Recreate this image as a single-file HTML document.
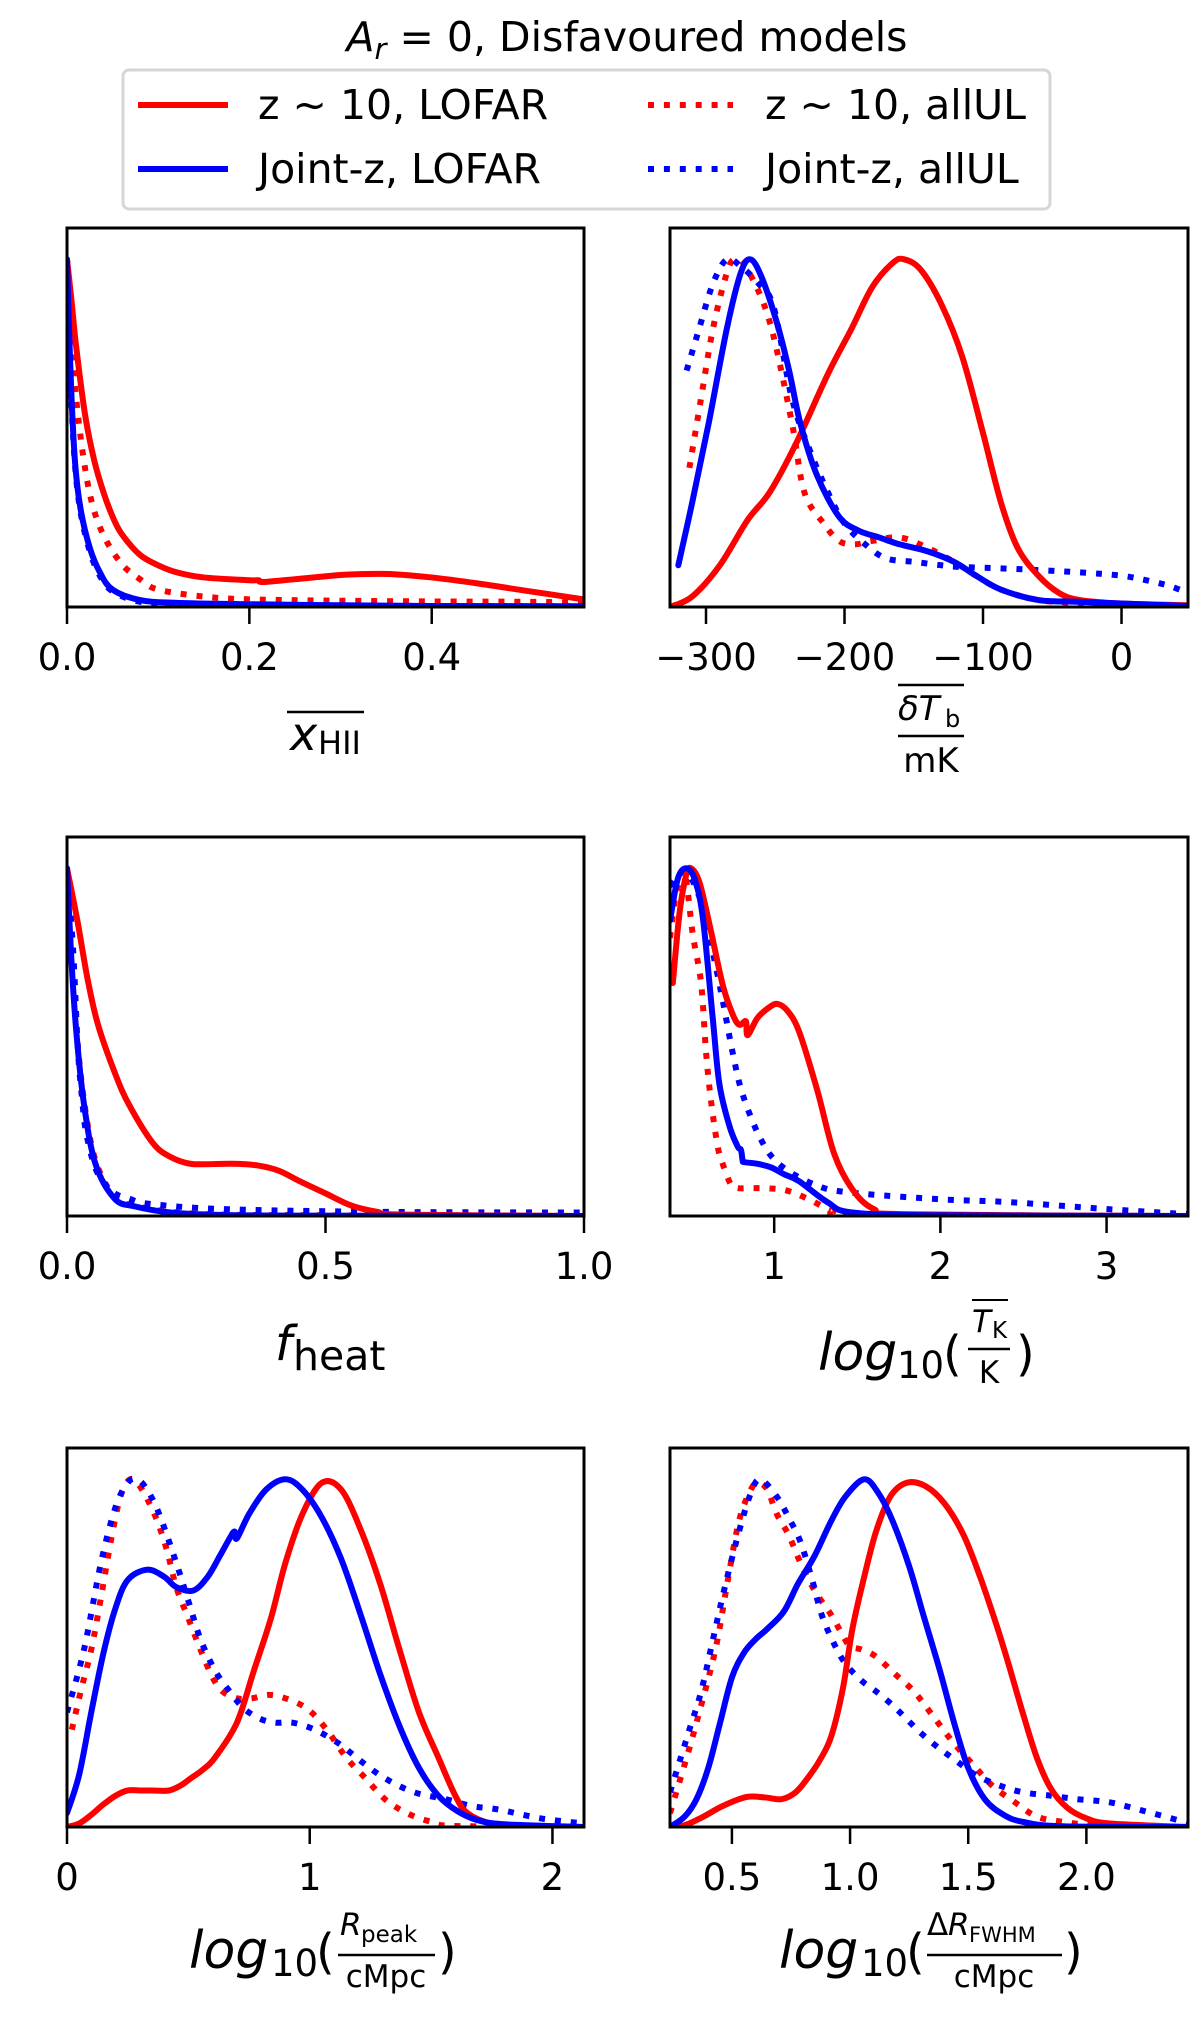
<!DOCTYPE html>
<html><head><meta charset="utf-8"><style>
html,body{margin:0;padding:0;background:#fff;}
svg{display:block;font-family:"DejaVu Sans","Liberation Sans",sans-serif;}
</style></head><body>
<svg id="fig" width="1200" height="2021" viewBox="0 0 1200 2021" xmlns="http://www.w3.org/2000/svg">
<rect x="0" y="0" width="1200" height="2021" fill="#fff"/>
<text x="627" y="51" text-anchor="middle" font-size="41"><tspan font-style="italic">A</tspan><tspan font-style="italic" font-size="29" dy="8">r</tspan><tspan dy="-8"> = 0, Disfavoured models</tspan></text>
<g>
<rect x="123" y="70" width="927" height="139" rx="6" fill="#fff" stroke="#d6d6d6" stroke-width="3"/>
<g><line x1="138" y1="105" x2="228" y2="105" stroke="#f00" stroke-width="6"/><text x="258" y="119" font-size="41">z ∼ 10, LOFAR</text></g>
<g><line x1="138" y1="169" x2="228" y2="169" stroke="#00f" stroke-width="6"/><text x="258" y="183" font-size="41">Joint-z, LOFAR</text></g>
<g><line x1="648" y1="105" x2="733" y2="105" stroke="#f00" stroke-width="6" stroke-dasharray="6 9.9"/><text x="765" y="119" font-size="41">z ∼ 10, allUL</text></g>
<g><line x1="648" y1="169" x2="733" y2="169" stroke="#00f" stroke-width="6" stroke-dasharray="6 9.9"/><text x="765" y="183" font-size="41">Joint-z, allUL</text></g>
</g>
<g id="panels"></g>
<g font-size="40">
<g>
<text x="290" y="750" font-style="italic" font-size="46">x</text><text x="318" y="754" font-size="32">HII</text>
<line x1="287" y1="712" x2="364" y2="712" stroke="#000" stroke-width="2.5"/>
</g>
<g>
<line x1="898" y1="685" x2="964" y2="685" stroke="#000" stroke-width="2.5"/>
<text x="898" y="720" font-size="34" font-style="italic">δT</text><text x="945" y="727" font-size="24">b</text>
<line x1="898" y1="736" x2="964" y2="736" stroke="#000" stroke-width="2.5"/>
<text x="931" y="772" font-size="34" text-anchor="middle">mK</text>
</g>
<g>
<text x="275" y="1360" font-style="italic" font-size="48">f</text><text x="293" y="1370" font-size="41">heat</text>
</g>
<g>
<text x="818" y="1370" font-style="italic" font-size="52">log</text><text x="897" y="1378" font-size="37">10</text><text x="943" y="1370" font-size="48">(</text>
<line x1="972" y1="1300" x2="1008" y2="1300" stroke="#000" stroke-width="2"/>
<text x="972" y="1332" font-size="31" font-style="italic">T</text><text x="992" y="1338" font-size="23">K</text>
<line x1="968" y1="1349" x2="1010" y2="1349" stroke="#000" stroke-width="2.5"/>
<text x="989" y="1383" font-size="31" text-anchor="middle">K</text>
<text x="1016" y="1370" font-size="48">)</text>
</g>
<g>
<text x="189" y="1968" font-style="italic" font-size="52">log</text><text x="271" y="1976" font-size="37">10</text><text x="316" y="1968" font-size="48">(</text>
<text x="340" y="1935" font-size="31" font-style="italic">R</text><text x="361" y="1942" font-size="23">peak</text>
<line x1="338" y1="1955" x2="435" y2="1955" stroke="#000" stroke-width="2.5"/>
<text x="386" y="1987" font-size="31" text-anchor="middle">cMpc</text>
<text x="438" y="1968" font-size="48">)</text>
</g>
<g>
<text x="779" y="1968" font-style="italic" font-size="52">log</text><text x="861" y="1976" font-size="37">10</text><text x="906" y="1968" font-size="48">(</text>
<text x="927" y="1935" font-size="31">Δ</text><text x="948" y="1935" font-size="31" font-style="italic">R</text><text x="969" y="1942" font-size="21">FWHM</text>
<line x1="927" y1="1955" x2="1062" y2="1955" stroke="#000" stroke-width="2.5"/>
<text x="994" y="1987" font-size="31" text-anchor="middle">cMpc</text>
<text x="1064" y="1968" font-size="48">)</text>
</g>
</g>
</svg>
<script>
// ---- data (normalised densities) ----
const xhiiTicks = [0.0, 0.2, 0.4];
const xhiiTickLabels = ["0.0", "0.2", "0.4"];
const xhiiRedSolidX = [0,.005,.01,.02,.03,.04,.05,.06,.08,.1,.12,.15,.2,.21,.215,.25,.3,.33,.36,.4,.45,.5,.567];
const xhiiRedSolidY = [1,.88,.75,.55,.42,.33,.26,.21,.15,.12,.1,.085,.077,.077,.072,.08,.092,.095,.094,.085,.068,.048,.022];
const xhiiRedDotX = [0,.005,.01,.022,.036,.058,.08,.1,.15,.2,.3,.4,.5,.567];
const xhiiRedDotY = [1,.8,.6,.365,.23,.13,.08,.05,.03,.022,.018,.016,.015,.013];
const xhiiBlueSolidX = [0,.002,.005,.009,.015,.025,.036,.05,.08,.12,.2,.3,.4,.567];
const xhiiBlueSolidY = [1,.82,.6,.41,.28,.17,.1,.05,.02,.012,.008,.005,.003,.002];
const xhiiBlueDotX = [0,.002,.005,.009,.015,.025,.036,.05,.08,.12,.2,.3,.4,.567];
const xhiiBlueDotY = [1,.8,.58,.4,.27,.16,.09,.045,.015,.01,.006,.004,.003,.002];

const dtbTicks = [-300, -200, -100, 0];
const dtbTickLabels = ["\u2212300", "\u2212200", "\u2212100", "0"];
const dtbRedSolidX = [-326,-310,-290,-270,-254,-235,-212,-195,-180,-165,-157,-145,-130,-115,-100,-87,-75,-60,-45,-30,0,48];
const dtbRedSolidY = [0,.03,.12,.25,.33,.47,.67,.8,.92,.99,1,.97,.87,.72,.5,.3,.17,.09,.04,.02,.01,.005];
const dtbRedDotX = [-312,-304,-295,-285,-279,-270,-254,-238,-229,-215,-204,-193,-180,-160,-140,-121,-105,-87,-60,-32,0,48];
const dtbRedDotY = [.4,.59,.8,.96,1,.97,.82,.53,.33,.24,.19,.18,.19,.2,.17,.13,.09,.05,.02,.012,.008,.004];
const dtbBlueSolidX = [-320,-310,-298,-285,-275,-268,-260,-249,-240,-232,-220,-204,-190,-175,-160,-140,-121,-105,-87,-60,-32,0,48];
const dtbBlueSolidY = [.12,.3,.53,.8,.96,1,.95,.82,.68,.53,.38,.26,.22,.2,.18,.16,.13,.09,.05,.02,.015,.01,.003];
const dtbBlueDotX = [-314,-305,-295,-285,-275,-262,-251,-238,-225,-212,-200,-185,-170,-150,-130,-115,-80,-32,0,20,35,48];
const dtbBlueDotY = [.68,.8,.93,1,.98,.93,.86,.6,.45,.33,.24,.18,.14,.13,.12,.115,.11,.1,.09,.075,.06,.04];

const fheatTicks = [0.0, 0.5, 1.0];
const fheatTickLabels = ["0.0", "0.5", "1.0"];
const fheatRedSolidX = [0,.02,.04,.06,.093,.12,.166,.2,.24,.3,.33,.37,.41,.45,.5,.55,.6,.65,1];
const fheatRedSolidY = [1,.85,.68,.55,.41,.32,.21,.17,.15,.15,.15,.145,.13,.1,.065,.03,.012,.004,0];
const fheatRedDotX = [0,.008,.018,.033,.055,.092,.13,.2,.3,.5,1];
const fheatRedDotY = [1,.76,.54,.33,.16,.055,.03,.012,.004,.002,0];
const fheatBlueSolidX = [0,.008,.018,.033,.055,.092,.13,.2,.3,.5,1];
const fheatBlueSolidY = [1,.75,.53,.32,.15,.05,.028,.01,.003,.001,0];
const fheatBlueDotX = [0,.012,.021,.029,.037,.057,.088,.12,.16,.3,.6,1];
const fheatBlueDotY = [1,.76,.48,.34,.24,.13,.07,.05,.035,.02,.012,.01];

const tkTicks = [1, 2, 3];
const tkTickLabels = ["1", "2", "3"];
const tkRedSolidX = [.39,.43,.47,.5,.55,.61,.69,.75,.79,.83,.84,.9,.97,1.02,1.08,1.15,1.26,1.36,1.47,1.6,1.8,3.49];
const tkRedSolidY = [.67,.87,.98,1,.96,.84,.665,.58,.55,.56,.52,.57,.6,.61,.59,.53,.36,.18,.077,.02,.005,0];
const tkRedDotX = [.373,.41,.46,.51,.56,.59,.62,.66,.69,.74,.78,.9,1.06,1.2,1.35,1.5,3.49];
const tkRedDotY = [.8,.93,.99,.81,.67,.47,.33,.2,.15,.09,.08,.08,.075,.05,.015,.003,0];
const tkBlueSolidX = [.373,.42,.47,.52,.57,.63,.67,.73,.78,.8,.81,.82,.9,.98,1.06,1.15,1.32,1.47,2,3.49];
const tkBlueSolidY = [.85,.97,1,.97,.86,.57,.38,.26,.2,.19,.16,.155,.15,.14,.12,.1,.04,.01,.002,0];
const tkBlueDotX = [.373,.47,.57,.63,.69,.75,.81,.92,1.04,1.26,1.47,2,2.41,3,3.49];
const tkBlueDotY = [.95,.99,.89,.76,.62,.47,.35,.22,.145,.087,.067,.048,.04,.02,.005];

const rpeakTicks = [0, 1, 2];
const rpeakTickLabels = ["0", "1", "2"];
const rpeakRedSolidX = [0,.05,.1,.15,.2,.25,.3,.35,.42,.47,.51,.56,.61,.7,.77,.84,.9,.97,1.05,1.13,1.21,1.29,1.37,1.45,1.53,1.6,1.65,1.75,1.9,2.13];
const rpeakRedSolidY = [0,.01,.035,.065,.09,.105,.105,.105,.105,.12,.14,.165,.2,.3,.45,.6,.76,.9,.99,.97,.855,.7,.51,.33,.2,.09,.04,.01,.003,0];
const rpeakRedDotX = [.02,.06,.1,.14,.18,.22,.26,.3,.36,.41,.45,.5,.55,.6,.64,.7,.76,.83,.9,.99,1.07,1.15,1.23,1.31,1.4,1.5,1.6,2.13];
const rpeakRedDotY = [.28,.4,.51,.66,.82,.95,1,.98,.9,.8,.69,.6,.51,.43,.39,.37,.37,.38,.37,.34,.28,.2,.14,.08,.04,.015,.003,0];
const rpeakBlueSolidX = [0,.05,.1,.15,.2,.25,.33,.4,.45,.52,.58,.63,.67,.69,.7,.75,.82,.9,.97,1.05,1.13,1.21,1.29,1.37,1.45,1.53,1.61,1.69,1.8,2.13];
const rpeakBlueSolidY = [.04,.15,.33,.5,.63,.71,.74,.72,.69,.68,.72,.78,.83,.85,.83,.9,.97,1,.97,.89,.77,.61,.44,.29,.17,.09,.045,.02,.008,0];
const rpeakBlueDotX = [0,.07,.14,.2,.25,.29,.33,.38,.45,.5,.55,.61,.67,.73,.8,.86,.93,1.02,1.12,1.21,1.31,1.43,1.56,1.67,1.78,1.95,2.13];
const rpeakBlueDotY = [.33,.51,.76,.92,.99,1,.97,.9,.76,.65,.54,.45,.39,.34,.31,.3,.3,.28,.24,.19,.14,.1,.08,.06,.05,.025,.01];

const fwhmTicks = [0.5, 1.0, 1.5, 2.0];
const fwhmTickLabels = ["0.5", "1.0", "1.5", "2.0"];
const fwhmRedSolidX = [.238,.3,.38,.46,.56,.64,.71,.77,.82,.87,.92,.97,1.01,1.06,1.11,1.17,1.24,1.32,1.4,1.48,1.55,1.62,1.67,1.73,1.79,1.85,1.92,2.0,2.1,2.43];
const fwhmRedSolidY = [0,.005,.03,.06,.086,.085,.08,.1,.14,.19,.26,.4,.57,.72,.85,.95,.99,.98,.93,.84,.72,.58,.47,.33,.2,.11,.055,.025,.01,0];
const fwhmRedDotX = [.238,.3,.35,.43,.48,.53,.58,.61,.65,.69,.74,.79,.85,.92,.97,1.0,1.05,1.11,1.19,1.27,1.35,1.44,1.52,1.6,1.7,1.79,1.9,2.05,2.43];
const fwhmRedDotY = [.04,.18,.3,.51,.7,.88,.97,.99,.97,.9,.84,.76,.68,.61,.55,.52,.51,.49,.44,.39,.32,.24,.18,.12,.07,.03,.015,.005,0];
const fwhmBlueSolidX = [.238,.3,.35,.4,.45,.5,.55,.6,.65,.72,.78,.85,.92,.98,1.06,1.12,1.18,1.25,1.31,1.38,1.44,1.5,1.57,1.65,1.73,1.9,2.43];
const fwhmBlueSolidY = [0,.03,.08,.17,.3,.43,.5,.54,.57,.62,.7,.78,.88,.95,1,.96,.88,.75,.61,.45,.3,.17,.08,.035,.015,.002,0];
const fwhmBlueDotX = [.238,.27,.32,.37,.42,.47,.53,.58,.62,.69,.74,.79,.84,.88,.93,.98,1.05,1.11,1.18,1.24,1.3,1.37,1.45,1.53,1.63,1.73,1.85,1.96,2.05,2.12,2.25,2.43];
const fwhmBlueDotY = [.1,.17,.28,.39,.54,.69,.85,.96,1,.95,.89,.82,.71,.61,.53,.47,.42,.39,.35,.31,.27,.23,.19,.15,.12,.1,.09,.08,.075,.068,.045,.012];

// ---- drawing ----
const NS = "http://www.w3.org/2000/svg";
const root = document.getElementById("panels");
const YMAX = 1.09;

function mk(tag, attrs, parent) {
  const e = document.createElementNS(NS, tag);
  for (const k in attrs) e.setAttribute(k, attrs[k]);
  parent.appendChild(e);
  return e;
}

function smoothPath(pts) {
  let d = "M" + pts[0][0].toFixed(2) + "," + pts[0][1].toFixed(2);
  for (let i = 0; i < pts.length - 1; i++) {
    const p0 = pts[i - 1] || pts[i], p1 = pts[i], p2 = pts[i + 1], p3 = pts[i + 2] || pts[i + 1];
    const c1x = p1[0] + (p2[0] - p0[0]) / 6, c1y = p1[1] + (p2[1] - p0[1]) / 6;
    const c2x = p2[0] - (p3[0] - p1[0]) / 6, c2y = p2[1] - (p3[1] - p1[1]) / 6;
    d += " C" + c1x.toFixed(2) + "," + c1y.toFixed(2) + " " + c2x.toFixed(2) + "," + c2y.toFixed(2) + " " + p2[0].toFixed(2) + "," + p2[1].toFixed(2);
  }
  return d;
}

function panel(name, box, xlim, ticks, tickLabels, series) {
  const g = mk("g", {}, root);
  
  
  const [x0, y0, x1, y1] = box;
  const sx = v => x0 + (v - xlim[0]) / (xlim[1] - xlim[0]) * (x1 - x0);
  const sy = v => y1 - v / YMAX * (y1 - y0);
  const clipId = "clip-" + name;
  const cp = mk("clipPath", { id: clipId }, g);
  mk("rect", { x: x0, y: y0, width: x1 - x0, height: y1 - y0 }, cp);
  const lines = mk("g", { "clip-path": "url(#" + clipId + ")" }, g);
  series.forEach(s => {
    const pts = s.x.map((v, i) => [sx(v), sy(s.y[i])]);
    const p = mk("path", { d: smoothPath(pts), fill: "none", stroke: s.color, "stroke-width": 6, "stroke-linejoin": "round" }, lines);
    if (s.dot) { p.setAttribute("stroke-dasharray", "6 9.9"); p.setAttribute("stroke-linecap", "butt"); }
    else p.setAttribute("stroke-linecap", "round");
    
    
  });
  const frame = mk("rect", { x: x0, y: y0, width: x1 - x0, height: y1 - y0, fill: "none", stroke: "#000", "stroke-width": 3 }, g);
  
  
  ticks.forEach((t, i) => {
    const x = sx(t);
    const tk = mk("line", { x1: x, y1: y1, x2: x, y2: y1 + 17, stroke: "#000", "stroke-width": 2.5 }, g);
    
    
    const lb = mk("text", { x: x, y: y1 + 63, "text-anchor": "middle", "font-size": 37 }, g);
    lb.textContent = tickLabels[i];
    
    
  });
}

const L = [67, 584], R = [670, 1188];
const rows = [[228, 607], [837, 1216], [1448, 1827]];
const RED = "#ff0000", BLUE = "#0000ff";
function four(rsX, rsY, rdX, rdY, bsX, bsY, bdX, bdY) {
  return [
    { id: "z10-allul", x: rdX, y: rdY, color: RED, dot: true },
    { id: "jointz-allul", x: bdX, y: bdY, color: BLUE, dot: true },
    { id: "z10-lofar", x: rsX, y: rsY, color: RED, dot: false },
    { id: "jointz-lofar", x: bsX, y: bsY, color: BLUE, dot: false }
  ];
}
panel("xhii", [L[0], rows[0][0], L[1], rows[0][1]], [0, 0.567], xhiiTicks, xhiiTickLabels,
  four(xhiiRedSolidX, xhiiRedSolidY, xhiiRedDotX, xhiiRedDotY, xhiiBlueSolidX, xhiiBlueSolidY, xhiiBlueDotX, xhiiBlueDotY));
panel("dtb", [R[0], rows[0][0], R[1], rows[0][1]], [-326, 48], dtbTicks, dtbTickLabels,
  four(dtbRedSolidX, dtbRedSolidY, dtbRedDotX, dtbRedDotY, dtbBlueSolidX, dtbBlueSolidY, dtbBlueDotX, dtbBlueDotY));
panel("fheat", [L[0], rows[1][0], L[1], rows[1][1]], [0, 1], fheatTicks, fheatTickLabels,
  four(fheatRedSolidX, fheatRedSolidY, fheatRedDotX, fheatRedDotY, fheatBlueSolidX, fheatBlueSolidY, fheatBlueDotX, fheatBlueDotY));
panel("tk", [R[0], rows[1][0], R[1], rows[1][1]], [0.373, 3.49], tkTicks, tkTickLabels,
  four(tkRedSolidX, tkRedSolidY, tkRedDotX, tkRedDotY, tkBlueSolidX, tkBlueSolidY, tkBlueDotX, tkBlueDotY));
panel("rpeak", [L[0], rows[2][0], L[1], rows[2][1]], [0, 2.13], rpeakTicks, rpeakTickLabels,
  four(rpeakRedSolidX, rpeakRedSolidY, rpeakRedDotX, rpeakRedDotY, rpeakBlueSolidX, rpeakBlueSolidY, rpeakBlueDotX, rpeakBlueDotY));
panel("fwhm", [R[0], rows[2][0], R[1], rows[2][1]], [0.238, 2.43], fwhmTicks, fwhmTickLabels,
  four(fwhmRedSolidX, fwhmRedSolidY, fwhmRedDotX, fwhmRedDotY, fwhmBlueSolidX, fwhmBlueSolidY, fwhmBlueDotX, fwhmBlueDotY));
</script>
</body></html>
